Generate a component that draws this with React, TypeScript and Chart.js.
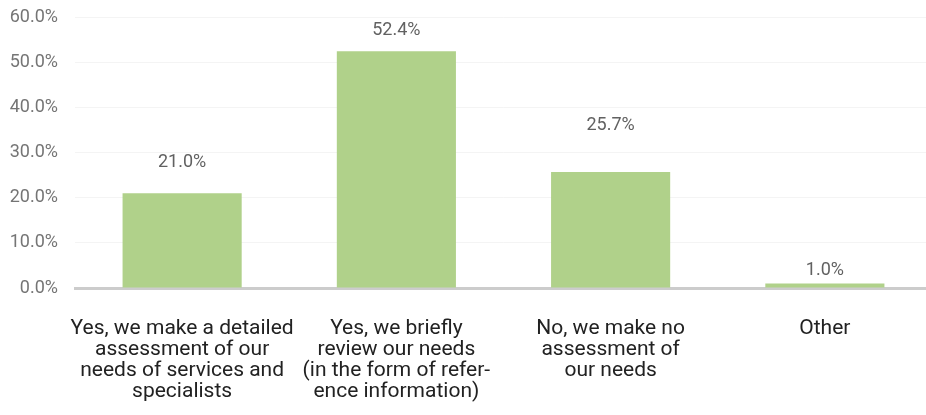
import React, { useEffect, useRef } from "react";
import { Chart, registerables } from "chart.js";

Chart.register(...registerables);

const categories: string[][] = [
  ["Yes, we make a detailed", "assessment of our", "needs of services and", "specialists"],
  ["Yes, we briefly", "review our needs", "(in the form of refer-", "ence information)"],
  ["No, we make no", "assessment of", "our needs"],
  ["Other"],
];
const values: number[] = [21.0, 52.4, 25.7, 1.0];
const yTicks: number[] = [0, 10, 20, 30, 40, 50, 60];

// label lift above each bar (pixels), as seen in the reference layout
const labelGap: number[] = [31, 21, 46, 13];

const FONT = "Roboto, 'Noto Sans', sans-serif";

const valueLabels = {
  id: "valueLabels",
  afterDatasetsDraw(chart: any) {
    const ctx = chart.ctx;
    const meta = chart.getDatasetMeta(0);
    ctx.save();
    ctx.font = `18px ${FONT}`;
    ctx.fillStyle = "#616161";
    ctx.textAlign = "center";
    ctx.textBaseline = "middle";
    meta.data.forEach((bar: any, i: number) => {
      ctx.fillText(values[i].toFixed(1) + "%", bar.x, bar.y - labelGap[i]);
    });
    ctx.restore();
  },
};

export default function App() {
  const ref = useRef<HTMLCanvasElement | null>(null);
  useEffect(() => {
    if (!ref.current) return;
    const chart = new Chart(ref.current, {
      type: "bar",
      data: {
        labels: categories,
        datasets: [
          {
            data: values,
            backgroundColor: "#b0d18a",
            borderWidth: 0,
            categoryPercentage: 1,
            barPercentage: 0.556,
          },
        ],
      },
      options: {
        animation: false,
        responsive: false,
        maintainAspectRatio: false,
        layout: { padding: { top: 17, right: 0, left: 0, bottom: 0 } },
        plugins: {
          legend: { display: false },
          tooltip: { enabled: false },
        },
        scales: {
          x: {
            grid: { display: false, drawTicks: false },
            border: { display: true, color: "#cccccc", width: 3 },
            ticks: {
              color: "#222222",
              font: { family: FONT, size: 21, lineHeight: 1.0 },
              padding: 30,
              maxRotation: 0,
              autoSkip: false,
            },
            afterFit(scale: any) {
              scale.height = 127;
              scale.paddingLeft = 0;
              scale.paddingRight = 0;
            },
          },
          y: {
            min: 0,
            max: 60,
            z: 1,
            afterBuildTicks(scale: any) {
              scale.ticks = yTicks.map((v) => ({ value: v }));
            },
            grid: {
              drawTicks: false,
              color: (c: any) => (c.tick && c.tick.value === 0 ? "rgba(0,0,0,0)" : "rgba(236,236,236,0.6)"),
              lineWidth: 1,
            },
            border: { display: false },
            ticks: {
              color: "#757575",
              font: { family: FONT, size: 18 },
              padding: 17,
              callback: (v: any) => Number(v).toFixed(1) + "%",
            },
            afterFit(scale: any) {
              scale.width = 75;
              scale.paddingTop = 0;
              scale.paddingBottom = 0;
            },
          },
        },
      },
      plugins: [valueLabels],
    });
    return () => chart.destroy();
  }, []);
  return (
    <div style={{ position: "fixed", left: 0, top: 0, width: 926, height: 415, overflow: "hidden", background: "#fff" }}>
      <canvas ref={ref} width={932} height={415} style={{ display: "block" }} />
    </div>
  );
}
